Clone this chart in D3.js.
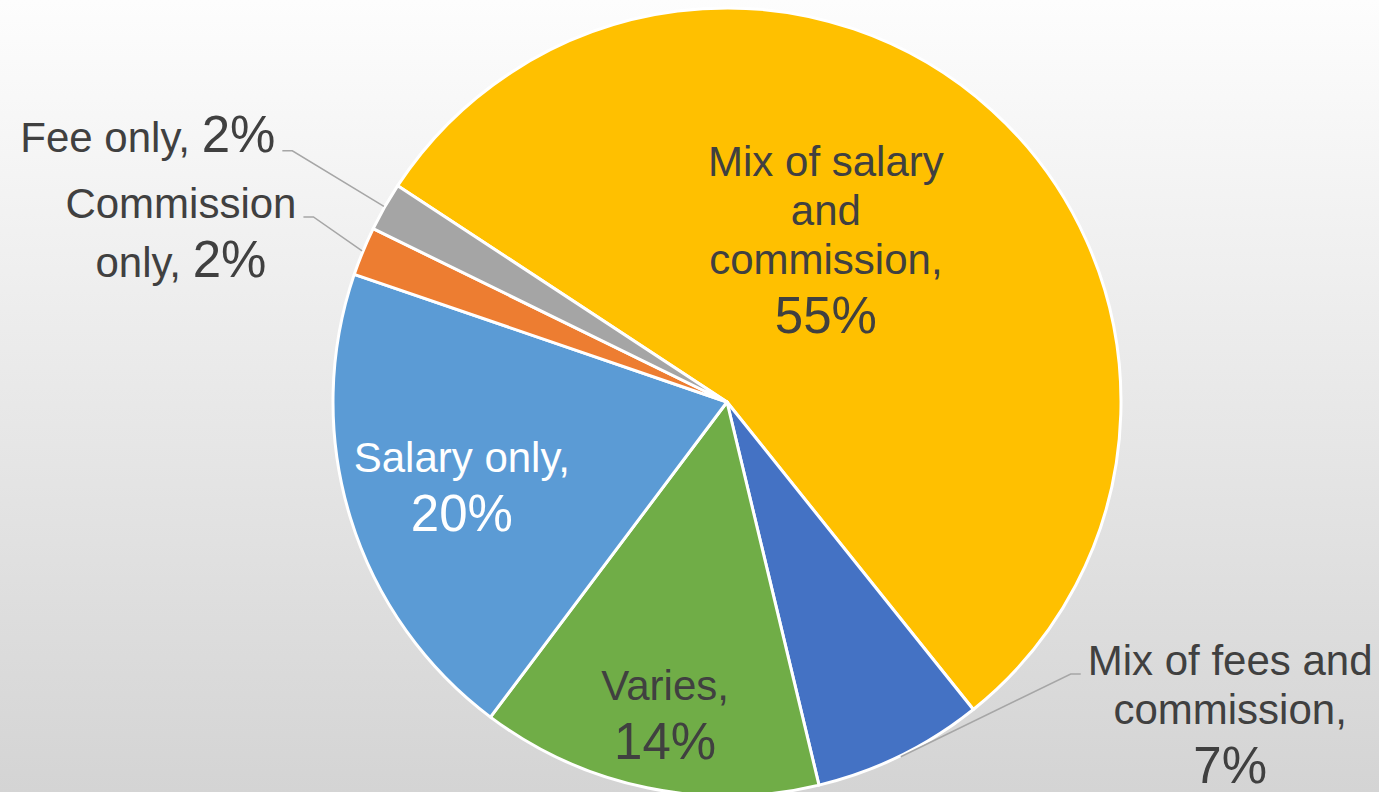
<!DOCTYPE html>
<html>
<head>
<meta charset="utf-8">
<script src="https://cdn.jsdelivr.net/npm/d3@7"></script>
<style>
  html, body { margin: 0; padding: 0; overflow: hidden; }
  svg { display: block; font-family: "Liberation Sans", Arial, sans-serif; }
</style>
</head>
<body>
<script>
'use strict';

// chart data
const categories = ["Mix of salary and commission", "Mix of fees and commission", "Varies",
  "Salary only", "Commission only", "Fee only"];
const values = [55, 7, 14, 20, 2, 2];
const percentLabels = ["55%", "7%", "14%", "20%", "2%", "2%"];
// how each category name is broken over lines in its label
const labelLines = [
  ["Mix of salary", "and", "commission,"],
  ["Mix of fees and", "commission,"],
  ["Varies,"],
  ["Salary only,"],
  ["Commission", "only,"],
  ["Fee only,"]
];
const colors = ["#FFC000", "#4472C4", "#70AD47", "#5B9BD5", "#ED7D31", "#A5A5A5"];

(function () {
  const width = 1379, height = 792;
  const cx = 727, cy = 402, radius = 394;
  const firstSliceDeg = -56.7;

  // label anchor (centre x, first baseline) relative to pie centre, in radius units
  const labelAnchor = [[0.251, -0.574], [1.277, 0.693], [-0.157, 0.756],
    [-0.673, 0.178], [-1.386, -0.467], [-1.47, -0.635]];
  const outside = [false, true, false, false, true, true];

  const svg = d3.select("body").append("svg")
    .attr("width", width)
    .attr("height", height);

  // background gradient
  let grad = svg.append("defs").append("linearGradient")
    .attr("id", "bg").attr("x1", 0).attr("y1", 0).attr("x2", 0).attr("y2", 1);
  grad.append("stop").attr("offset", "0%").attr("stop-color", "#fdfdfd");
  grad.append("stop").attr("offset", "100%").attr("stop-color", "#d4d4d4");
  svg.append("rect").attr("width", width).attr("height", height).attr("fill", "url(#bg)");

  let start = firstSliceDeg * Math.PI / 180;
  let pie = d3.pie().sort(null).value((d) => d)
    .startAngle(start).endAngle(start + 2 * Math.PI);
  let arcs = pie(values);

  let arc = d3.arc().innerRadius(0).outerRadius(radius);

  let g = svg.append("g").attr("transform", `translate(${cx},${cy})`);

  g.selectAll("path.slice")
    .data(arcs)
    .enter()
    .append("path")
    .attr("class", "slice")
    .attr("d", arc)
    .attr("fill", (d, i) => colors[i])
    .attr("stroke", "#fff")
    .attr("stroke-width", 3)
    .attr("stroke-linejoin", "round");

  // data labels
  const catSize = 42, pctSize = 51, catStep = 49, pctStep = 59;

  arcs.forEach((a, i) => {
    let ax = labelAnchor[i][0] * radius;
    let ay = labelAnchor[i][1] * radius;
    let fill = i === 3 ? "#ffffff" : "#404040";
    let lines = labelLines[i];
    let text = g.append("text")
      .attr("text-anchor", "middle")
      .attr("fill", fill);

    // small slices keep the percentage on the last name line
    let pctInline = (i === 4 || i === 5);
    let y = ay;
    lines.forEach((ln, k) => {
      let last = k === lines.length - 1;
      if (k > 0) y += (pctInline && last) ? pctStep : catStep;
      let t = text.append("tspan")
        .attr("x", ax).attr("y", y)
        .style("font-size", catSize + "px")
        .text(ln);
      if (pctInline && last) {
        t.text(ln + " ");
        text.append("tspan")
          .style("font-size", pctSize + "px")
          .text(percentLabels[i]);
      }
    });
    if (!pctInline) {
      y += pctStep;
      text.append("tspan")
        .attr("x", ax).attr("y", y)
        .style("font-size", pctSize + "px")
        .text(percentLabels[i]);
    }

    // leader lines for labels placed outside the pie
    if (outside[i]) {
      let firstLine = text.select("tspan").node();
      let ext = firstLine.getComputedTextLength();
      let mid = (a.startAngle + a.endAngle) / 2;
      let ex = Math.sin(mid) * (radius + 1);
      let ey = -Math.cos(mid) * (radius + 1);
      let leftSide = ex < ax;
      let half = i === 5 ? text.node().getComputedTextLength() / 2 : ext / 2;
      let sx = leftSide ? ax - half - 7 : ax + half + 7;
      let ly = ay - 1;
      let kx = leftSide ? sx - 10 : sx + 10;
      g.append("polyline")
        .attr("points", [[sx, ly], [kx, ly], [ex, ey]].map((p) => p.join(",")).join(" "))
        .attr("fill", "none")
        .attr("stroke", "#a6a6a6")
        .attr("stroke-width", 1.5);
    }
  });
})();
</script>
</body>
</html>
